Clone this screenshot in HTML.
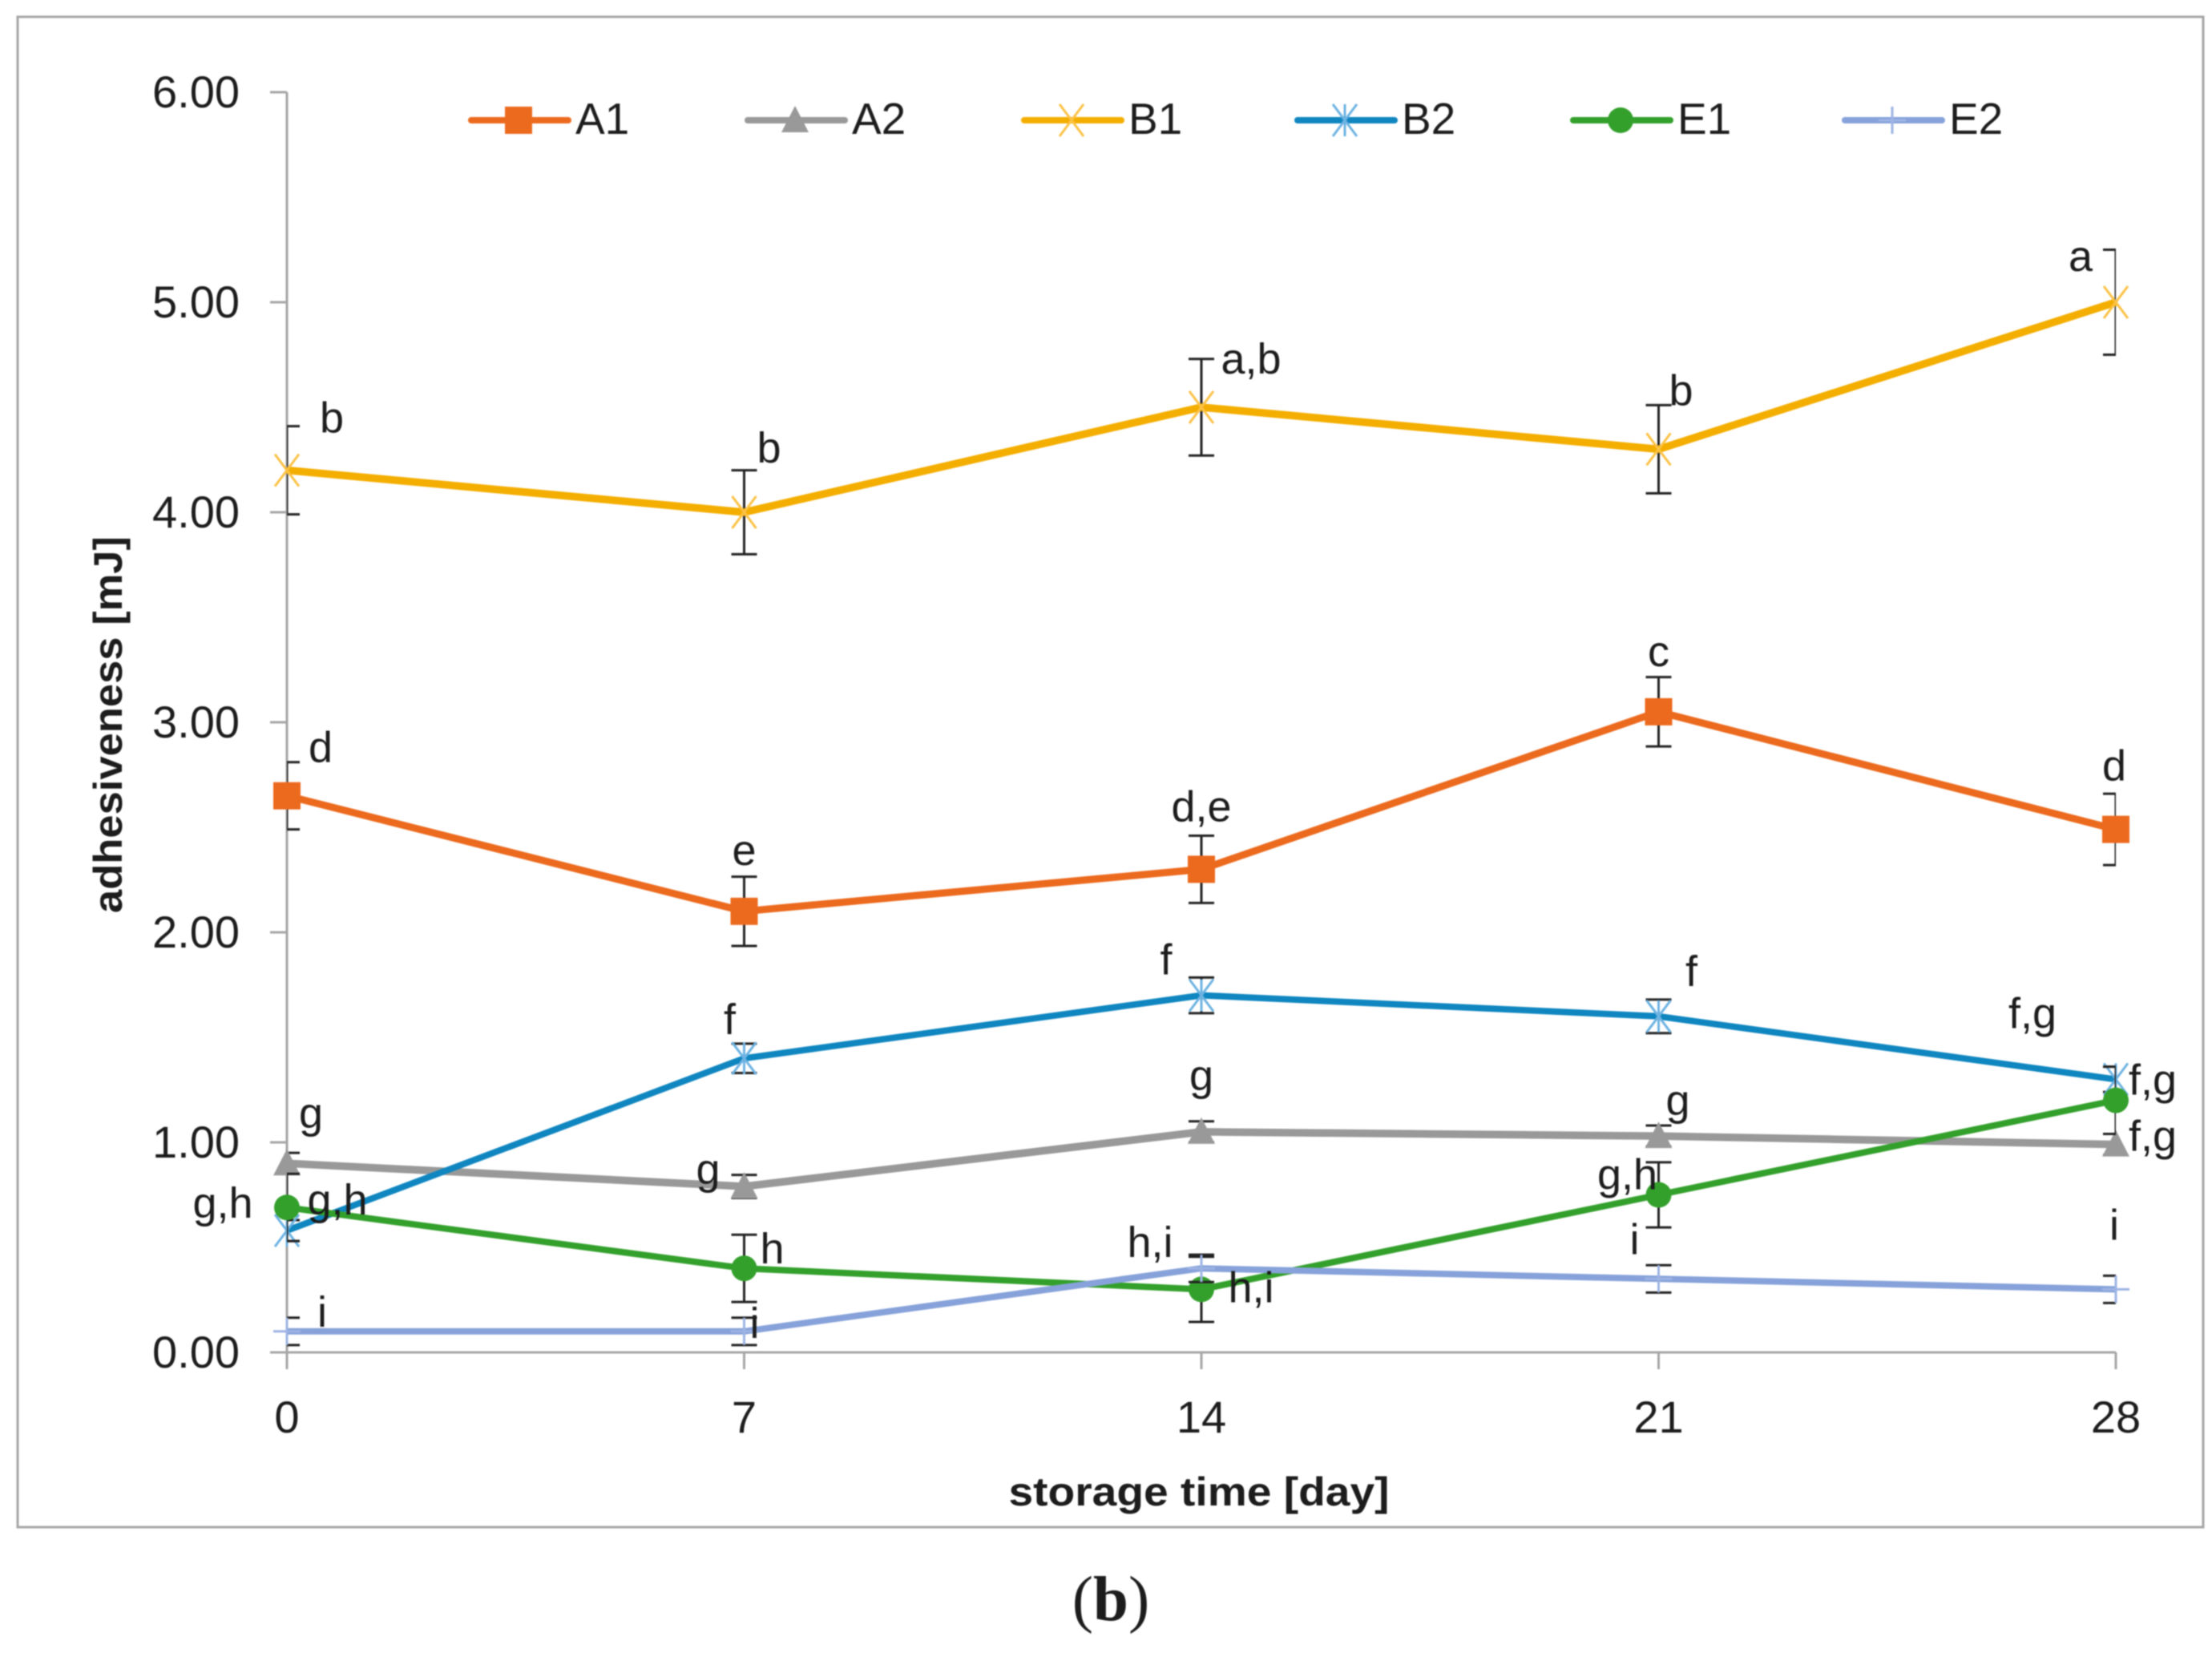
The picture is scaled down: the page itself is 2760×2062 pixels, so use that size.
<!DOCTYPE html>
<html lang="en">
<head>
<meta charset="utf-8">
<title>Adhesiveness over storage time</title>
<style>
html,body{margin:0;padding:0;background:#fff;}
body{width:2760px;height:2062px;overflow:hidden;}
svg{display:block;filter:blur(0.7px);}
text{font-family:"Liberation Sans",sans-serif;fill:#1c1c1c;}
</style>
</head>
<body>
<svg id="chart" xmlns="http://www.w3.org/2000/svg" width="2760" height="2062" viewBox="0 0 2760 2062">
  <rect x="22" y="21" width="2727" height="1884" fill="#fff" stroke="#a6a6a6" stroke-width="3"/>
  <defs><clipPath id="plot-clip"><rect x="358" y="0" width="2282" height="1900"/></clipPath></defs>
  <text x="1496" y="1878" font-size="50" font-weight="700" text-anchor="middle" textLength="475" lengthAdjust="spacingAndGlyphs">storage time [day]</text>
  <text transform="translate(152,904) rotate(-90)" font-size="50" font-weight="700" text-anchor="middle" textLength="470" lengthAdjust="spacingAndGlyphs">adhesiveness [mJ]</text>
  <text x="1386" y="2021" font-size="79" text-anchor="middle" style="font-family:'Liberation Serif',serif">(<tspan font-weight="700" style="font-family:'Liberation Serif',serif">b</tspan>)</text>
</svg>
<script>
const days = [0, 7, 14, 21, 28];
const yTickLabels = ['0.00', '1.00', '2.00', '3.00', '4.00', '5.00', '6.00'];
const a1Values = [2.65, 2.10, 2.30, 3.05, 2.49];
const a1Errors = [0.16, 0.165, 0.16, 0.165, 0.17];
const a2Values = [0.90, 0.79, 1.05, 1.03, 0.99];
const a2Errors = [0.05, 0.055, 0.05, 0.05, 0.05];
const b1Values = [4.20, 4.00, 4.50, 4.30, 5.00];
const b1Errors = [0.21, 0.20, 0.23, 0.21, 0.25];
const b2Values = [0.58, 1.40, 1.70, 1.60, 1.30];
const b2Errors = [0.05, 0.07, 0.085, 0.08, 0.06];
const e1Values = [0.69, 0.40, 0.30, 0.75, 1.20];
const e1Errors = [0.16, 0.16, 0.155, 0.155, 0.16];
const e2Values = [0.10, 0.10, 0.40, 0.35, 0.30];
const e2Errors = [0.065, 0.065, 0.065, 0.065, 0.065];

const svg = document.getElementById('chart');
const NS = 'http://www.w3.org/2000/svg';
function xAxis(day) { return 358 + (day / 28) * 2282; }
function yAxis(v) { return 1687 - v * 262; }
function make(tag, attrs, parent) {
  const n = document.createElementNS(NS, tag);
  for (const k in attrs) n.setAttribute(k, attrs[k]);
  (parent || svg).appendChild(n);
  return n;
}

/* axes */
const axes = make('g', {stroke: '#a6a6a6', 'stroke-width': 3, fill: 'none'});


const yLine = make('line', {x1: xAxis(0), x2: xAxis(0), y1: yAxis(6), y2: 1708}, axes);


const xLine = make('line', {x1: 337, x2: xAxis(28), y1: yAxis(0), y2: yAxis(0)}, axes);


yTickLabels.forEach(function (label) {
  const v = parseFloat(label);
  const tick = make('line', {x1: 337, x2: xAxis(0), y1: yAxis(v), y2: yAxis(v)}, axes);
  
  
  const t = make('text', {x: 299, y: yAxis(v) + 19, 'font-size': 56, 'text-anchor': 'end'});
  t.textContent = label;
  
  
});
days.forEach(function (day) {
  const tick = make('line', {x1: xAxis(day), x2: xAxis(day), y1: yAxis(0), y2: 1708}, axes);
  
  
  const t = make('text', {x: xAxis(day), y: 1787, 'font-size': 56, 'text-anchor': 'middle'});
  t.textContent = String(day);
  
  
});

/* markers */
function drawMarker(kind, cx, cy, color, parent) {
  const g = make('g', {}, parent);
  
  
  if (kind === 'square') {
    make('rect', {x: cx - 17, y: cy - 17, width: 34, height: 34, fill: color}, g);
  } else if (kind === 'triangle') {
    make('path', {d: 'M' + cx + ' ' + (cy - 18) + 'L' + (cx + 17) + ' ' + (cy + 15) + 'L' + (cx - 17) + ' ' + (cy + 15) + 'Z', fill: color}, g);
  } else if (kind === 'circle') {
    make('circle', {cx: cx, cy: cy, r: 16, fill: color}, g);
  } else if (kind === 'cross' || kind === 'star') {
    const r = 15;
    make('path', {d: 'M' + (cx - r) + ' ' + (cy - r - 5) + 'L' + (cx + r) + ' ' + (cy + r + 5) + 'M' + (cx + r) + ' ' + (cy - r - 5) + 'L' + (cx - r) + ' ' + (cy + r + 5), stroke: color, 'stroke-width': 3, fill: 'none'}, g);
    if (kind === 'star') make('path', {d: 'M' + cx + ' ' + (cy - 20) + 'V' + (cy + 20), stroke: color, 'stroke-width': 3}, g);
  } else if (kind === 'plus') {
    make('path', {d: 'M' + (cx - 17) + ' ' + cy + 'H' + (cx + 17) + 'M' + cx + ' ' + (cy - 17) + 'V' + (cy + 17), stroke: color, 'stroke-width': 3}, g);
  }
}

/* series */
function drawSeries(name, values, errors, color, markerColor, kind, weight) {
  const g = make('g', {});
  
  
  const eg = make('g', {stroke: '#222', 'stroke-width': 3, fill: 'none', 'clip-path': 'url(#plot-clip)'}, g);
  
  
  days.forEach(function (day, i) {
    const x = xAxis(day);
    const top = yAxis(values[i] + errors[i]);
    const bot = yAxis(values[i] - errors[i]);
    make('path', {d: 'M' + x + ' ' + top + 'V' + bot + 'M' + (x - 16) + ' ' + top + 'H' + (x + 16) + 'M' + (x - 16) + ' ' + bot + 'H' + (x + 16)}, eg);
  });
  const pts = days.map(function (day, i) { return xAxis(day) + ',' + yAxis(values[i]); }).join(' ');
  const line = make('polyline', {points: pts, fill: 'none', stroke: color, 'stroke-width': weight, 'stroke-linejoin': 'round'}, g);
  
  
  days.forEach(function (day, i) {
    drawMarker(kind, xAxis(day), yAxis(values[i]), markerColor, g);
  });
}
drawSeries('a1', a1Values, a1Errors, '#ec6a1e', '#ec6a1e', 'square', 9);
drawSeries('a2', a2Values, a2Errors, '#999999', '#999999', 'triangle', 9.5);
drawSeries('b1', b1Values, b1Errors, '#f4ae00', '#fbc245', 'cross', 9.5);
drawSeries('b2', b2Values, b2Errors, '#0f86c0', '#6db3e2', 'star', 8);
drawSeries('e1', e1Values, e1Errors, '#33a02c', '#33a02c', 'circle', 8);
drawSeries('e2', e2Values, e2Errors, '#87a2da', '#9db4e4', 'plus', 8);

/* significance letters, anchored to their data point */
function note(values, i, text, dx, dy) {
  const t = make('text', {x: xAxis(days[i]) + dx, y: yAxis(values[i]) + dy, 'font-size': 54, 'text-anchor': 'middle'});
  t.textContent = text;
  
  
}
note(b1Values, 0, 'b', 56, -47);
note(b1Values, 1, 'b', 31, -62);
note(b1Values, 2, 'a,b', 62, -42);
note(b1Values, 3, 'b', 28, -55);
note(b1Values, 4, 'a', -44, -39);
note(a1Values, 0, 'd', 42, -42);
note(a1Values, 1, 'e', 0, -58);
note(a1Values, 2, 'd,e', 0, -60);
note(a1Values, 3, 'c', 0, -57);
note(a1Values, 4, 'd', -2, -61);
note(b2Values, 1, 'f', -18, -30);
note(b2Values, 2, 'f', -44, -26);
note(b2Values, 3, 'f', 41, -38);
note(b2Values, 4, 'f,g', -104, -64);
note(b2Values, 4, 'f,g', 46, 19);
note(a2Values, 0, 'g', 30, -44);
note(a2Values, 1, 'g', -45, -3);
note(a2Values, 2, 'g', 0, -52);
note(a2Values, 3, 'g', 24, -26);
note(a2Values, 4, 'f,g', 46, 8);
note(b2Values, 0, 'g,h', -80, -16);
note(e1Values, 0, 'g,h', 63, 9);
note(e1Values, 1, 'h', 35, -6);
note(e2Values, 2, 'h,i', -64, -14);
note(e1Values, 2, 'h,i', 62, 16);
note(e1Values, 3, 'g,h', -39, -7);
note(e2Values, 3, 'i', -30, -31);
note(e2Values, 4, 'i', -2, -62);
note(e2Values, 0, 'i', 44, -6);
note(e2Values, 1, 'i', 13, 8);

/* legend */
function legendEntry(name, left, color, markerColor, kind) {
  const g = make('g', {});
  
  
  const l = make('line', {x1: left + 3, x2: left + 124, y1: 150, y2: 150, stroke: color, 'stroke-width': 8, 'stroke-linecap': 'round'}, g);
  
  
  drawMarker(kind, left + 62, 150, markerColor, g);
  const t = make('text', {x: left + 133, y: 167, 'font-size': 55}, g);
  t.textContent = name;
  
  
}
legendEntry('A1', 585, '#ec6a1e', '#ec6a1e', 'square');
legendEntry('A2', 930, '#999999', '#999999', 'triangle');
legendEntry('B1', 1275, '#f4ae00', '#fbc245', 'cross');
legendEntry('B2', 1616, '#0f86c0', '#6db3e2', 'star');
legendEntry('E1', 1960, '#33a02c', '#33a02c', 'circle');
legendEntry('E2', 2299, '#87a2da', '#9db4e4', 'plus');
</script>
</body>
</html>
